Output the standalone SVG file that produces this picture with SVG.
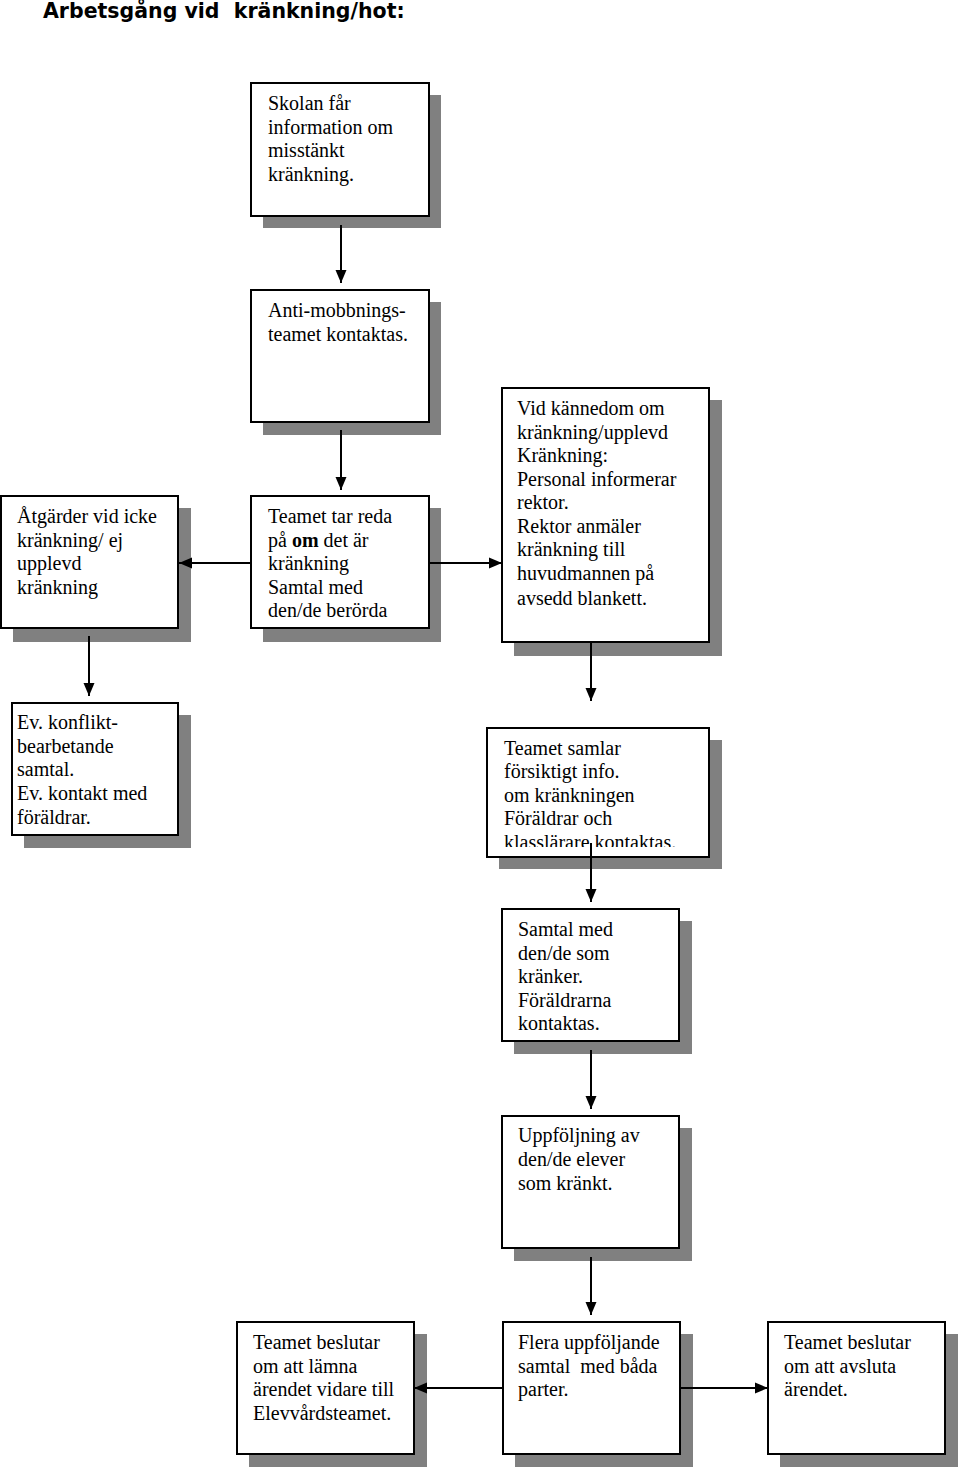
<svg xmlns="http://www.w3.org/2000/svg" width="960" height="1471" viewBox="0 0 960 1471">
<style>
.sh{fill:#808080}
.bx{fill:#fff;stroke:#000;stroke-width:2}
.t{font-family:"Liberation Serif","Times New Roman",serif;font-size:20px;fill:#000}
.ttl{font-family:"DejaVu Sans",Verdana,sans-serif;font-size:20.5px;font-weight:bold;fill:#000}
.c{stroke:#000;stroke-width:2;fill:none}
</style>
<defs>
<marker id="ah" markerUnits="userSpaceOnUse" markerWidth="14" markerHeight="14" viewBox="0 0 14 14" refX="13" refY="7" orient="auto">
<path d="M0,1.5 L13,7 L0,12.5 Z" fill="#000"/>
</marker>
<clipPath id="clipSamlar"><rect x="488" y="729" width="220" height="118"/></clipPath>
</defs>
<rect width="960" height="1471" fill="#fff"/>
<text class="ttl" x="43" y="18" xml:space="preserve">Arbetsgång vid  kränkning/hot:</text>

<g id="n1">
<rect class="sh" x="263" y="95" width="178" height="133"/>
<rect class="bx" x="251" y="83" width="178" height="133"/>
<text class="t"><tspan x="268" y="110">Skolan får</tspan><tspan x="268" y="134">information om</tspan><tspan x="268" y="157">misstänkt</tspan><tspan x="268" y="181">kränkning.</tspan></text>
</g>

<g id="n2">
<rect class="sh" x="263" y="302" width="178" height="133"/>
<rect class="bx" x="251" y="290" width="178" height="132"/>
<text class="t"><tspan x="268" y="317">Anti-mobbnings-</tspan><tspan x="268" y="341">teamet kontaktas.</tspan></text>
</g>

<g id="n3">
<rect class="sh" x="263" y="508" width="178" height="134"/>
<rect class="bx" x="251" y="496" width="178" height="132"/>
<text class="t"><tspan x="268" y="523">Teamet tar reda</tspan><tspan x="268" y="547">på <tspan font-weight="bold">om</tspan> det är</tspan><tspan x="268" y="570">kränkning</tspan><tspan x="268" y="594">Samtal med</tspan><tspan x="268" y="617">den/de berörda</tspan></text>
</g>

<g id="n4">
<rect class="sh" x="13" y="508" width="178" height="134"/>
<rect class="bx" x="1" y="496" width="177" height="132"/>
<text class="t"><tspan x="17" y="523">Åtgärder vid icke</tspan><tspan x="17" y="547">kränkning/ ej</tspan><tspan x="17" y="570">upplevd</tspan><tspan x="17" y="594">kränkning</tspan></text>
</g>

<g id="n5">
<rect class="sh" x="514" y="400" width="208" height="256"/>
<rect class="bx" x="502" y="388" width="207" height="254"/>
<text class="t"><tspan x="517" y="415">Vid kännedom om</tspan><tspan x="517" y="439">kränkning/upplevd</tspan><tspan x="517" y="462">Kränkning:</tspan><tspan x="517" y="486">Personal informerar</tspan><tspan x="517" y="509">rektor.</tspan><tspan x="517" y="533">Rektor anmäler</tspan><tspan x="517" y="556">kränkning till</tspan><tspan x="517" y="580">huvudmannen på</tspan><tspan x="517" y="605">avsedd blankett.</tspan></text>
</g>

<g id="n6">
<rect class="sh" x="24" y="715" width="167" height="133"/>
<rect class="bx" x="12" y="703" width="166" height="132"/>
<text class="t"><tspan x="17" y="729">Ev. konflikt-</tspan><tspan x="17" y="753">bearbetande</tspan><tspan x="17" y="776">samtal.</tspan><tspan x="17" y="800">Ev. kontakt med</tspan><tspan x="17" y="824">föräldrar.</tspan></text>
</g>

<g id="n7">
<rect class="sh" x="499" y="740" width="223" height="129"/>
<rect class="bx" x="487" y="728" width="222" height="129"/>
<text class="t" clip-path="url(#clipSamlar)"><tspan x="504" y="755">Teamet samlar</tspan><tspan x="504" y="778">försiktigt info.</tspan><tspan x="504" y="802">om kränkningen</tspan><tspan x="504" y="825">Föräldrar och</tspan><tspan x="504" y="849">klasslärare kontaktas.</tspan></text>
</g>

<g id="n8">
<rect class="sh" x="514" y="921" width="178" height="133"/>
<rect class="bx" x="502" y="909" width="177" height="132"/>
<text class="t"><tspan x="518" y="936">Samtal med</tspan><tspan x="518" y="960">den/de som</tspan><tspan x="518" y="983">kränker.</tspan><tspan x="518" y="1007">Föräldrarna</tspan><tspan x="518" y="1030">kontaktas.</tspan></text>
</g>

<g id="n9">
<rect class="sh" x="514" y="1128" width="178" height="133"/>
<rect class="bx" x="502" y="1116" width="177" height="132"/>
<text class="t"><tspan x="518" y="1142">Uppföljning av</tspan><tspan x="518" y="1166">den/de elever</tspan><tspan x="518" y="1190">som kränkt.</tspan></text>
</g>

<g id="n10">
<rect class="sh" x="249" y="1334" width="178" height="133"/>
<rect class="bx" x="237" y="1322" width="177" height="132"/>
<text class="t"><tspan x="253" y="1349">Teamet beslutar</tspan><tspan x="253" y="1373">om att lämna</tspan><tspan x="253" y="1396">ärendet vidare till</tspan><tspan x="253" y="1420">Elevvårdsteamet.</tspan></text>
</g>

<g id="n11">
<rect class="sh" x="515" y="1334" width="178" height="133"/>
<rect class="bx" x="503" y="1322" width="177" height="132"/>
<text class="t"><tspan x="518" y="1349">Flera uppföljande</tspan><tspan x="518" y="1373" xml:space="preserve">samtal  med båda</tspan><tspan x="518" y="1396">parter.</tspan></text>
</g>

<g id="n12">
<rect class="sh" x="780" y="1334" width="178" height="133"/>
<rect class="bx" x="768" y="1322" width="177" height="132"/>
<text class="t"><tspan x="784" y="1349">Teamet beslutar</tspan><tspan x="784" y="1373">om att avsluta</tspan><tspan x="784" y="1396">ärendet.</tspan></text>
</g>

<g id="connectors">
<line class="c" x1="341" y1="225" x2="341" y2="283" marker-end="url(#ah)"/>
<line class="c" x1="341" y1="430" x2="341" y2="490" marker-end="url(#ah)"/>
<line class="c" x1="251" y1="563" x2="179" y2="563" marker-end="url(#ah)"/>
<line class="c" x1="429" y1="563" x2="502" y2="563" marker-end="url(#ah)"/>
<line class="c" x1="89" y1="636" x2="89" y2="696" marker-end="url(#ah)"/>
<line class="c" x1="591" y1="643" x2="591" y2="701" marker-end="url(#ah)"/>
<line class="c" x1="591" y1="843" x2="591" y2="902" marker-end="url(#ah)"/>
<line class="c" x1="591" y1="1050" x2="591" y2="1109" marker-end="url(#ah)"/>
<line class="c" x1="591" y1="1257" x2="591" y2="1315" marker-end="url(#ah)"/>
<line class="c" x1="503" y1="1388" x2="414" y2="1388" marker-end="url(#ah)"/>
<line class="c" x1="680" y1="1388" x2="768" y2="1388" marker-end="url(#ah)"/>
</g>
</svg>
